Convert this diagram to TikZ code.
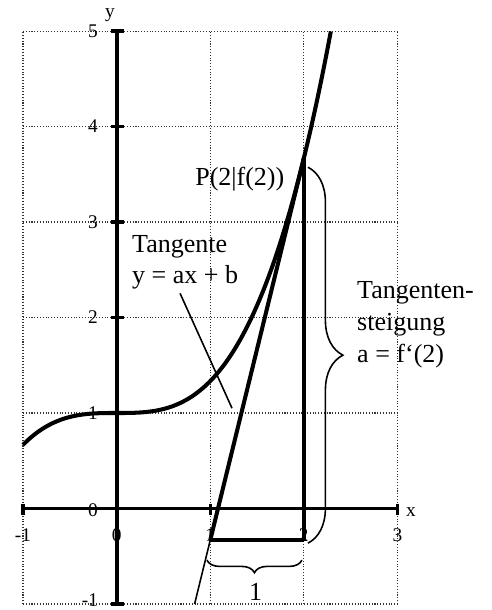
\documentclass[tikz,border=0pt]{standalone}
\usepackage{fontspec}
\setmainfont{Liberation Serif}
\usetikzlibrary{decorations.pathreplacing}
\begin{document}
\begin{tikzpicture}[x=1.872cm, y=1.91cm,
  gridline/.style={densely dotted, line width=0.6pt, black!80},
  axisline/.style={line width=2.2pt},
  tickmark/.style={line width=1.9pt},
  thickline/.style={line width=2.3pt},
  thinline/.style={line width=0.9pt},
  bracestyle/.style={line width=0.9pt, decorate},
  smalllabel/.style={font=\fontsize{11}{13}\selectfont, inner sep=0pt},
  biglabel/.style={font=\fontsize{14.8}{17.6}\selectfont, inner sep=0pt, anchor=base west}]
\useasboundingbox (-1.246,-1.063) rectangle (4.004,5.325);
% grid
\foreach \xx in {-1,0,1,2,3} \draw[gridline] (\xx,-1) -- (\xx,5);
\foreach \yy in {-1,0,1,2,3,4,5} \draw[gridline] (-1,\yy) -- (3,\yy);
% axes
\coordinate (xl) at (-1,0);
\coordinate (xr) at (3,0);
\coordinate (yb) at (0,-1);
\coordinate (yt) at (0,5);
\draw[axisline] (xl) -- (xr);
\draw[axisline] (yb) -- (yt);
\foreach \yy in {-1,1,2,3,4,5} \draw[tickmark] (-0.055,\yy) -- (0.08,\yy);
\foreach \xx in {-1,1,2,3} \draw[tickmark] (\xx,0.05) -- (\xx,-0.07);
% axis labels
\node[smalllabel] (lx) at (3.146,-0.04) {x};
\node[smalllabel] (ly) at (-0.071,5.165) {y};
\foreach \yy in {1,2,3,4,5} \node[smalllabel] (ly\yy) at (-0.253,\yy) {\yy};
\node[smalllabel] (ly0) at (-0.253,-0.02) {0};
\node[smalllabel] (lym) at (-0.285,-0.96) {-1};
\node[smalllabel] (lxm) at (-1,-0.28) {-1};
\foreach \xx in {0,1,2,3} \node[smalllabel] (lx\xx) at (\xx,-0.28) {\xx};
% curve
\draw[thickline] plot[domain=-1:2.2894, samples=120, smooth] (\x, {\x*\x*\x/3+1});
% tangent
\coordinate (P) at (2,11/3);
\coordinate (Q) at (1,-1/3);
\coordinate (R) at (2,-1/3);
\coordinate (T0) at (0.8333,-1);
\draw[thickline] (Q) -- (P);
\draw[thinline] (T0) -- (Q);
\draw[thickline] (P) -- (R);
\draw[thickline] (Q) -- (R);
% braces
\coordinate (B1) at (2.044,3.574);
\coordinate (B2) at (2.044,-0.363);
\draw[bracestyle, decoration={brace, amplitude=0.7cm}] (B1) -- (B2);
\coordinate (C1) at (1.98,-0.541);
\coordinate (C2) at (0.965,-0.541);
\draw[bracestyle, decoration={brace, amplitude=0.25cm}] (C1) -- (C2);
% texts
\node[biglabel] (lP) at (0.837,3.385) {P(2|f(2))};
\node[biglabel] (lt1) at (0.163,2.686) {Tangente};
\node[biglabel] (lt2) at (0.163,2.361) {y = ax + b};
\node[biglabel] (ls1) at (2.567,2.196) {Tangenten-};
\node[biglabel] (ls2) at (2.567,1.867) {steigung};
\node[biglabel] (ls3) at (2.567,1.532) {a = f‘(2)};
\node[font=\fontsize{14.8}{17.6}\selectfont, inner sep=0pt] (lone) at (1.484,-0.877) {1};
% pointer
\coordinate (pa) at (0.678,2.253);
\coordinate (pb) at (1.233,1.05);
\draw[thinline] (pa) -- (pb);
\end{tikzpicture}
\end{document}
